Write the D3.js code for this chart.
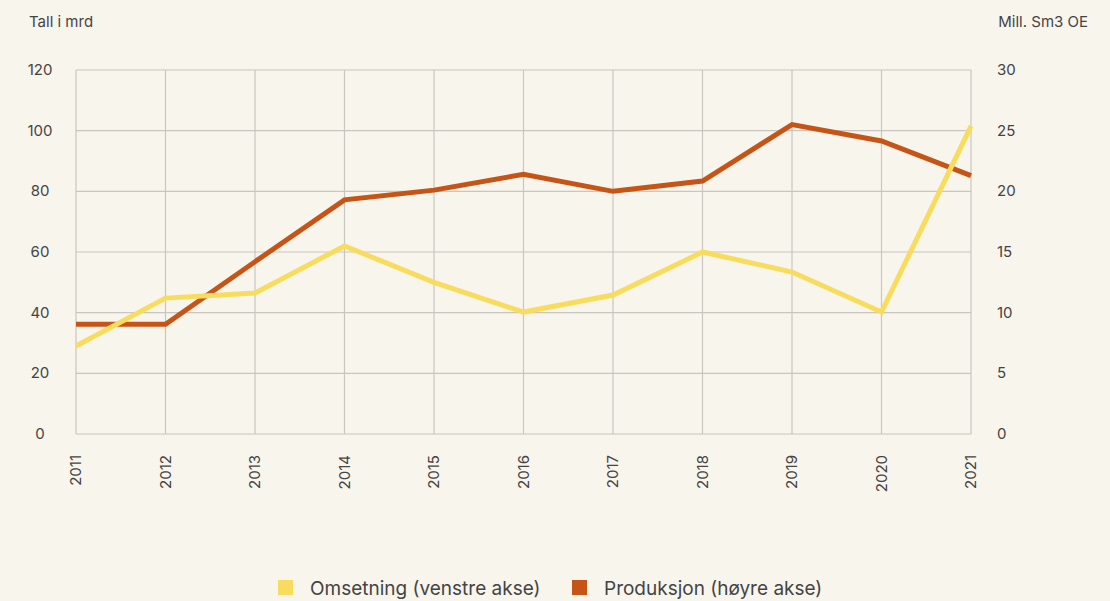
<!DOCTYPE html>
<html>
<head>
<meta charset="utf-8">
<script src="https://cdn.jsdelivr.net/npm/d3@7"></script>
<style>
  body { margin: 0; background: #f8f5ed; }
  svg { display: block; font-family: Inter, "Open Sans", sans-serif; }
</style>
</head>
<body>
<script>
var width = 1110,
    height = 601;

// Data
var years = ["2011", "2012", "2013", "2014", "2015", "2016", "2017", "2018", "2019", "2020", "2021"];
var omsetning = [29, 44.8, 46.5, 62, 50, 40.2, 45.8, 60, 53.4, 40.2, 101.5];
var produksjon = [9.05, 9.05, 14.2, 19.3, 20.1, 21.4, 20.0, 20.85, 25.5, 24.15, 21.3];
var leftTicks = [0, 20, 40, 60, 80, 100, 120];
var rightTicks = [0, 5, 10, 15, 20, 25, 30];
var seriesNames = ["Omsetning (venstre akse)", "Produksjon (høyre akse)"];
var seriesColors = ["#f8dc5e", "#c65417"];

var svg = d3.select("body").append("svg")
    .attr("width", width)
    .attr("height", height);

var x = d3.scalePoint().domain(years).range([76, 971]);
var yLeft = d3.scaleLinear().domain([0, 120]).range([434, 70]);
var yRight = d3.scaleLinear().domain([0, 30]).range([434, 70]);

// grille horizontale
svg.append("g").selectAll("line").data(leftTicks).join("line")
    .attr("x1", 76).attr("x2", 971)
    .attr("y1", d => yLeft(d)).attr("y2", d => yLeft(d))
    .attr("stroke", "#c9c6c0").attr("stroke-width", 1.2);

// grille verticale
svg.append("g").selectAll("line").data(years).join("line")
    .attr("x1", d => x(d)).attr("x2", d => x(d))
    .attr("y1", 70).attr("y2", 434)
    .attr("stroke", "#c9c6c0").attr("stroke-width", 1.2);

// axe gauche
svg.append("g").selectAll("text").data(leftTicks).join("text")
    .attr("x", 40).attr("y", d => yLeft(d) + 5)
    .attr("text-anchor", "middle")
    .attr("font-size", 15).attr("fill", "#444")
    .text(d => d);

// axe droit
svg.append("g").selectAll("text").data(rightTicks).join("text")
    .attr("x", 997).attr("y", d => yRight(d) + 5)
    .attr("text-anchor", "start")
    .attr("font-size", 15).attr("fill", "#444")
    .text(d => d);

// axe x
svg.append("g").selectAll("text").data(years).join("text")
    .attr("transform", d => "translate(" + (x(d) + 5) + ",455) rotate(-90)")
    .attr("text-anchor", "end")
    .attr("font-size", 15).attr("fill", "#444")
    .text(d => d);

// titres des axes
svg.append("text").attr("x", 29).attr("y", 27)
    .attr("font-size", 15).attr("fill", "#444").text("Tall i mrd");
svg.append("text").attr("x", 1088).attr("y", 27).attr("text-anchor", "end")
    .attr("font-size", 15).attr("fill", "#444").text("Mill. Sm3 OE");

// lignes
var lineLeft = d3.line().x((d, i) => x(years[i])).y(d => yLeft(d));
var lineRight = d3.line().x((d, i) => x(years[i])).y(d => yRight(d));

svg.append("path").datum(produksjon)
    .attr("d", lineRight)
    .attr("fill", "none").attr("stroke", seriesColors[1]).attr("stroke-width", 5);

svg.append("path").datum(omsetning)
    .attr("d", lineLeft)
    .attr("fill", "none").attr("stroke", seriesColors[0]).attr("stroke-width", 5);

// légende
var legendX = [278, 572];
var legend = svg.append("g").selectAll("g").data(seriesNames).join("g")
    .attr("transform", (d, i) => "translate(" + legendX[i] + ",580)");
legend.append("rect").attr("width", 15).attr("height", 15)
    .attr("fill", (d, i) => seriesColors[i]);
legend.append("text").attr("x", 32).attr("y", 15)
    .attr("font-size", 19).attr("fill", "#444")
    .text(d => d);
</script>
</body>
</html>
